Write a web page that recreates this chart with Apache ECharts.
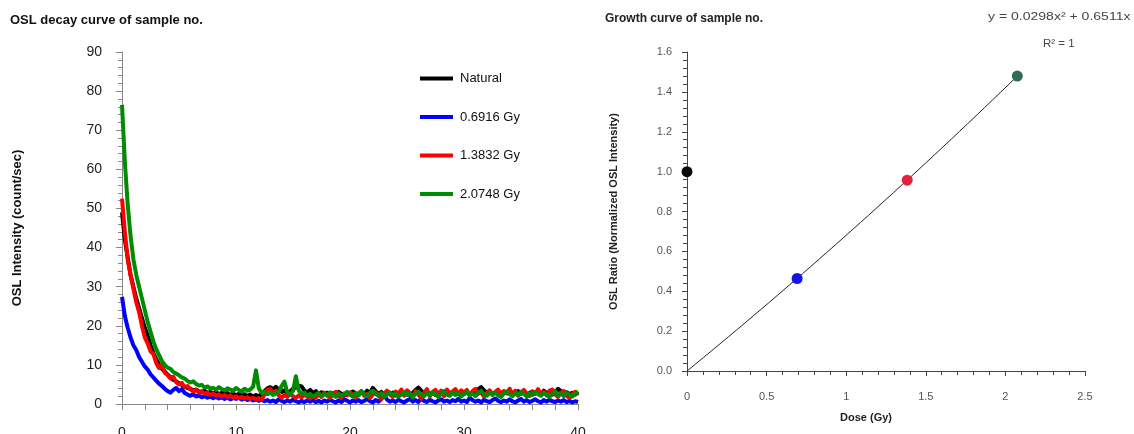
<!DOCTYPE html>
<html>
<head>
<meta charset="utf-8">
<title>OSL decay and growth curves</title>
<script src="https://cdn.jsdelivr.net/npm/echarts@6/dist/echarts.min.js"></script>
<style>
  html, body { margin: 0; padding: 0; background: #ffffff; }
  #chart { width: 1134px; height: 434px; }
</style>
</head>
<body>
<div id="chart"></div>
<script>
// ---- OSL decay curves: counts per 0.25 s channel, 0 to 40 s ----
const CHANNEL_STEP = 0.25;
const DECAY_NAMES = ['Natural', '0.6916 Gy', '1.3832 Gy', '2.0748 Gy'];
const DECAY_COLORS = ['#000000', '#0000ff', '#ff0000', '#008c00'];

const naturalCounts = [
  49,42,37.5,33,30,27,24.5,22,19.5,17.5,15,13,11.5,10.2,9.0,8.3,7.5,6.9,6.2,5.8,
  5.3,4.9,4.4,4.1,3.9,3.5,3.7,3.2,3.0,3.4,2.8,3.1,2.6,3.0,2.5,2.9,2.4,2.8,2.3,2.7,
  2.2,2.6,2.1,2.5,2.0,2.4,1.9,2.3,2.0,2.6,3.3,4.0,4.3,3.8,4.4,3.6,3.1,3.5,2.7,3.2,
  3.9,4.2,4.7,4.5,3.4,3.0,3.6,2.8,3.3,2.5,3.0,2.6,2.9,2.3,2.8,2.4,3.1,2.6,2.2,2.9,
  2.5,3.2,2.7,2.3,3.0,2.5,3.4,2.8,4.1,3.3,2.6,3.1,2.4,3.0,2.5,2.9,2.2,2.8,3.2,2.6,
  3.0,2.3,2.8,3.6,4.2,3.4,2.7,3.1,2.5,2.9,2.3,2.8,3.2,2.6,3.0,2.4,2.9,3.3,2.7,3.1,
  2.5,3.0,2.4,2.9,3.2,3.8,4.3,3.5,2.8,3.1,2.6,3.0,2.4,2.8,3.2,2.7,3.1,2.5,2.9,3.3,
  2.6,3.0,2.4,2.8,3.2,2.7,3.0,2.5,3.4,2.8,3.1,2.4,3.0,3.9,3.3,2.6,3.0,2.5,2.9,2.4,
  2.8
];

const dose1Counts = [
  27.4,22.5,19.5,17,15,13.8,12,10.8,9.6,8.8,7.6,6.8,6.0,5.2,4.6,3.9,3.3,2.9,3.6,4.1,
  3.3,3.8,2.8,2.4,2.1,2.5,1.9,2.2,1.7,2.0,1.6,1.9,1.5,1.8,1.4,1.7,1.3,1.6,1.2,1.5,
  1.3,1.6,1.1,1.4,1.0,1.3,0.9,1.2,0.8,1.1,0.7,1.0,0.6,0.9,0.5,1.2,0.8,0.5,0.9,0.6,
  1.1,0.7,0.4,0.8,0.5,0.9,0.6,1.0,0.5,0.8,0.4,0.9,0.6,1.1,0.7,0.4,0.9,0.5,1.2,0.8,
  0.4,0.9,0.6,1.0,0.5,0.8,1.3,0.7,0.4,1.0,0.6,1.2,2.4,1.1,0.6,0.9,0.5,1.1,0.7,0.4,
  0.9,1.3,0.6,1.0,0.5,1.4,0.8,0.5,1.1,0.7,0.4,0.9,1.2,0.6,0.9,0.5,1.0,0.7,1.3,0.6,
  0.9,0.5,1.6,1.0,0.6,0.9,0.4,1.1,0.7,0.5,1.0,1.4,0.8,0.5,0.9,0.6,1.2,0.7,0.4,0.9,
  1.3,0.6,1.0,0.5,0.8,1.2,0.7,0.4,1.0,0.6,1.1,0.7,0.5,0.9,0.6,1.0,0.5,0.8,0.4,0.7,
  0.5
];

const dose2Counts = [
  52.5,44,37,33,29.5,26,23.5,20,17,15.5,13.5,12.8,10.5,9.2,10.1,8.0,7.4,6.5,7.0,5.6,
  5.0,5.4,4.3,4.6,3.8,3.2,3.6,2.9,3.3,2.6,2.9,2.3,2.7,2.1,2.5,1.9,2.3,1.8,2.2,1.6,
  2.0,1.5,1.8,1.4,1.7,1.3,1.6,1.2,1.5,1.1,2.4,3.6,3.9,2.8,3.4,2.2,1.6,2.3,1.8,2.6,
  2.0,1.5,2.2,1.7,2.4,1.9,1.4,2.1,1.6,2.5,1.8,2.9,2.2,1.5,2.6,3.1,2.0,1.6,2.7,2.2,
  3.0,2.4,1.7,2.8,3.3,2.1,2.6,1.5,2.4,3.0,2.2,1.3,2.7,3.4,2.5,1.8,3.2,2.6,3.7,2.1,
  3.5,2.8,1.6,3.3,2.4,1.4,2.9,3.8,1.9,3.1,3.6,2.3,3.4,2.0,3.7,2.7,3.2,3.8,2.5,3.5,
  2.9,3.6,2.2,3.3,3.9,2.6,3.0,1.9,2.8,3.5,2.3,3.1,3.7,2.4,3.3,2.8,3.9,2.5,3.4,2.1,
  3.0,3.6,2.7,2.0,3.2,2.6,3.8,2.4,3.1,2.2,3.4,3.7,2.5,1.8,2.9,3.3,2.1,1.6,2.6,3.1,
  2.3
];

const dose3Counts = [
  76.5,62,51,43,37,33,30,27,24,21,18.5,16,14,12.5,11,10,9.3,9,8.2,7.8,
  7.3,6.8,6.5,5.9,5.5,5.8,5.1,4.7,4.9,4.2,4.5,3.9,4.1,3.6,4.3,3.8,3.5,4.0,3.7,3.3,
  4.1,3.6,3.2,3.9,3.4,3.7,4.4,8.6,4.0,2.8,3.1,2.5,2.9,2.3,2.7,3.2,4.6,5.7,3.0,2.4,
  3.3,7.1,3.5,2.5,2.9,2.1,2.6,1.9,2.4,2.8,2.0,2.6,2.2,3.0,2.3,1.8,2.7,2.1,2.5,3.1,
  2.4,1.9,2.8,2.2,3.3,2.5,2.0,2.9,3.4,2.6,2.1,2.8,1.8,2.5,3.0,2.2,2.7,1.9,2.4,3.1,
  2.3,2.8,1.7,2.6,3.2,2.4,2.0,2.9,2.2,3.0,2.5,1.8,2.7,3.3,2.4,2.1,2.9,2.3,2.8,1.9,
  2.6,3.1,2.2,2.7,2.0,2.8,3.4,2.5,2.1,2.9,2.4,3.0,2.2,1.8,2.7,3.2,2.5,2.0,2.8,2.3,
  3.1,2.6,1.9,2.7,2.3,3.0,2.5,2.1,2.9,2.4,1.8,2.6,3.2,2.2,2.7,2.0,2.8,2.4,1.9,2.6,
  3.3
];

const DECAY_SERIES = [naturalCounts, dose1Counts, dose2Counts, dose3Counts];

// ---- Growth curve: normalised OSL ratio against regenerative dose ----
const growthDoses = [0, 0.6916, 1.3832, 2.0748];
const growthRatios = [1.0, 0.464, 0.957, 1.479];
const growthColors = ['#0a0a0a', '#1414e6', '#e3213f', '#2f6a5a'];
// Fitted trendline y = FIT_A x^2 + FIT_B x
const FIT_A = 0.0298;
const FIT_B = 0.6511;
const FIT_LABEL = 'y = 0.0298x\u00B2 + 0.6511x';
const FIT_R2_LABEL = 'R\u00B2 = 1';

const FONT = '"Liberation Sans", Arial, sans-serif';

function toPairs(values) {
  return values.map((v, i) => [i * CHANNEL_STEP, v]);
}

const fitLine = [];
for (let i = 0; i <= 40; i++) {
  const x = growthDoses[growthDoses.length - 1] * i / 40;
  fitLine.push([x, FIT_A * x * x + FIT_B * x]);
}

const chart = echarts.init(document.getElementById('chart'), null, { renderer: 'canvas' });

const option = {
  backgroundColor: '#ffffff',
  animation: false,
  textStyle: { fontFamily: FONT },
  title: [
    {
      text: 'OSL decay curve of sample no.',
      left: 5, top: 9,
      textStyle: { fontFamily: FONT, fontSize: 13, fontWeight: 'bold', color: '#111' }
    },
    {
      text: 'Growth curve of sample no.',
      left: 600, top: 8,
      textStyle: { fontFamily: FONT, fontSize: 12, fontWeight: 'bold', color: '#222' }
    }
  ],
  legend: {
    data: DECAY_NAMES,
    orient: 'vertical',
    left: 415, top: 67,
    icon: 'rect',
    itemWidth: 33, itemHeight: 4,
    itemGap: 25.5,
    textStyle: { fontFamily: FONT, fontSize: 13, color: '#111', padding: [0, 0, 0, 2] }
  },
  graphic: [
    {
      type: 'text', left: 988, top: 11,
      scaleX: 1.22,
      style: { text: FIT_LABEL, fontFamily: FONT, fontSize: 11.5, fill: '#444' }
    },
    {
      type: 'text', left: 1043, top: 38,
      style: { text: FIT_R2_LABEL, fontFamily: FONT, fontSize: 11.5, fill: '#444' }
    }
  ],
  grid: [
    { left: 122, top: 52, width: 456, height: 352, containLabel: false, outerBoundsMode: 'none' },
    { left: 687, top: 52, width: 398, height: 319, containLabel: false, outerBoundsMode: 'none' }
  ],
  xAxis: [
    {
      gridIndex: 0, type: 'value', min: 0, max: 40, interval: 10,
      axisLine: { lineStyle: { color: '#888', width: 1 } },
      axisTick: { inside: false, length: 6, lineStyle: { color: '#888' } },
      minorTick: { show: true, splitNumber: 5, length: 6, lineStyle: { color: '#888' } },
      splitLine: { show: false },
      axisLabel: { margin: 22, fontFamily: FONT, fontSize: 14, color: '#222' }
    },
    {
      gridIndex: 1, type: 'value', min: 0, max: 2.5, interval: 0.5,
      name: 'Dose (Gy)', nameLocation: 'middle', nameGap: 41,
      nameTextStyle: { fontFamily: FONT, fontSize: 11, fontWeight: 'bold', color: '#222', padding: [0, 40, 0, 0] },
      axisLine: { lineStyle: { color: '#444', width: 1 } },
      axisTick: { inside: false, length: 5, lineStyle: { color: '#444' } },
      minorTick: { show: true, splitNumber: 5, length: 4, lineStyle: { color: '#444' } },
      splitLine: { show: false },
      axisLabel: {
        margin: 20, fontFamily: FONT, fontSize: 11, color: '#555',
        formatter: v => String(v)
      }
    }
  ],
  yAxis: [
    {
      gridIndex: 0, type: 'value', min: 0, max: 90, interval: 10,
      name: 'OSL Intensity (count/sec)', nameLocation: 'middle', nameGap: 98,
      nameTextStyle: { fontFamily: FONT, fontSize: 13, fontWeight: 'bold', color: '#111' },
      axisLine: { show: true, lineStyle: { color: '#888', width: 1 } },
      axisTick: { show: true, inside: false, length: 6, lineStyle: { color: '#888' } },
      minorTick: { show: true, splitNumber: 5, length: 4, lineStyle: { color: '#888' } },
      splitLine: { show: false },
      axisLabel: { margin: 20, fontFamily: FONT, fontSize: 14, color: '#222' }
    },
    {
      gridIndex: 1, type: 'value', min: 0, max: 1.6, interval: 0.2,
      name: 'OSL Ratio (Normalized OSL Intensity)', nameLocation: 'middle', nameGap: 68,
      nameTextStyle: { fontFamily: FONT, fontSize: 11, fontWeight: 'bold', color: '#222' },
      axisLine: { show: true, lineStyle: { color: '#444', width: 1 } },
      axisTick: { show: true, inside: false, length: 5, lineStyle: { color: '#444' } },
      minorTick: { show: true, splitNumber: 5, length: 4, lineStyle: { color: '#444' } },
      splitLine: { show: false },
      axisLabel: {
        margin: 15, fontFamily: FONT, fontSize: 11, color: '#555',
        formatter: v => v.toFixed(1)
      }
    }
  ],
  series: [
    ...DECAY_SERIES.map((values, k) => ({
      name: DECAY_NAMES[k],
      type: 'line',
      xAxisIndex: 0, yAxisIndex: 0,
      data: toPairs(values),
      showSymbol: false,
      symbol: 'none',
      color: DECAY_COLORS[k],
      lineStyle: { width: 4, color: DECAY_COLORS[k], join: 'round' },
      z: 2 + k
    })),
    {
      name: 'Trendline',
      type: 'line',
      xAxisIndex: 1, yAxisIndex: 1,
      data: fitLine,
      showSymbol: false,
      symbol: 'none',
      lineStyle: { width: 1, color: '#222' },
      z: 2
    },
    {
      name: 'Measured ratio',
      type: 'scatter',
      xAxisIndex: 1, yAxisIndex: 1,
      clip: false,
      symbolSize: 11,
      data: growthDoses.map((d, i) => ({
        value: [d, growthRatios[i]],
        itemStyle: { color: growthColors[i], opacity: 1 }
      })),
      z: 5
    }
  ]
};

chart.setOption(option);
</script>
</body>
</html>
